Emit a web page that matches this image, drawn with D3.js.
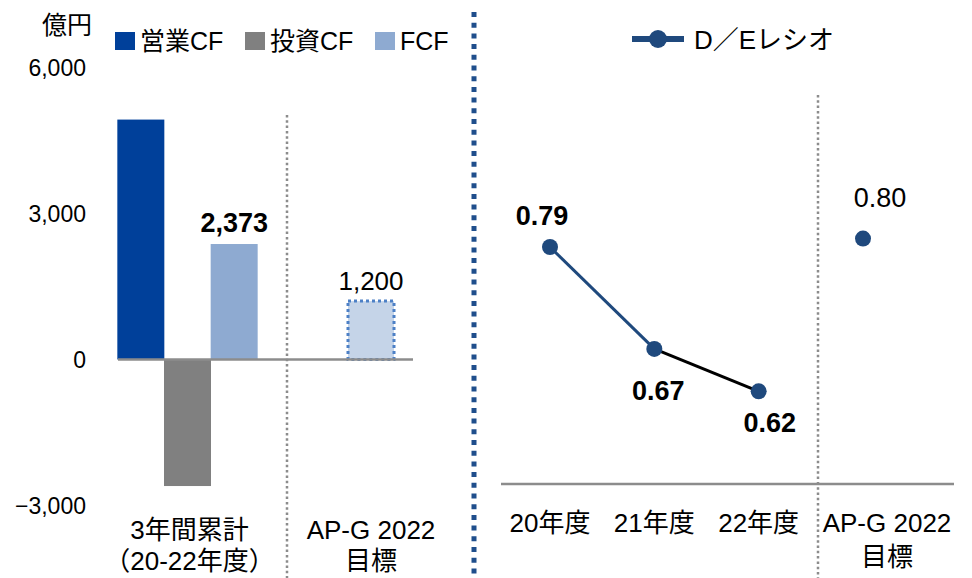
<!DOCTYPE html>
<html>
<head>
<meta charset="utf-8">
<script src="https://cdnjs.cloudflare.com/ajax/libs/d3/7.8.5/d3.min.js"></script>
<style>
  body { margin: 0; background: #fff; }
  text { font-family: "Liberation Sans", Arial, "Noto Sans CJK JP", sans-serif; fill: #000; }
</style>
</head>
<body>
<script>
// data
var cfSeries = ["営業CF", "投資CF", "FCF"];
var cfValues = [4930, -2600, 2373];
var cfColors = ["#00409a", "#808080", "#8eaad1"];
var targetFcf = 1200;
var leftCats = ["3年間累計", "AP-G 2022"];
var leftCatLines = [["3年間累計", "（20-22年度）"], ["AP-G 2022", "目標"]];
var leftTicks = [-3000, 0, 3000, 6000];

var deCats = ["20年度", "21年度", "22年度", "AP-G 2022"];
var deCatLines = [["20年度"], ["21年度"], ["22年度"], ["AP-G 2022", "目標"]];
var deValues = [0.79, 0.67, 0.62];
var deTarget = 0.80;

var width = 972, height = 578;

var svg = d3.select("body")
    .append("svg")
        .attr("width", width)
        .attr("height", height);

// ---------- left: cash flow bars ----------
var y = d3.scaleLinear()
    .domain([-3000, 6000])
    .range([505.5, 67.5]);

var xL = d3.scalePoint()
    .domain(leftCats)
    .range([187.5, 371]);

var xInner = d3.scaleBand()
    .domain(cfSeries)
    .range([-70, 70]);

var barW = 47;

// tick labels
svg.append("g").selectAll("text")
    .data(leftTicks)
    .join("text")
        .attr("x", 86)
        .attr("y", function(d) { return y(d); })
        .attr("dy", "0.38em")
        .attr("text-anchor", "end")
        .attr("font-size", "23px")
        .text(function(d) { return d3.format(",")(d).replace("-", "−"); });

svg.append("text")
    .text("億円")
    .attr("x", 67)
    .attr("y", 34)
    .attr("text-anchor", "middle")
    .attr("font-size", "25px");

// bars
svg.append("g").selectAll("rect")
    .data(cfValues)
    .join("rect")
        .attr("x", function(d, i) { return xL(leftCats[0]) + xInner(cfSeries[i]) + (xInner.bandwidth() - barW) / 2; })
        .attr("y", function(d) { return y(Math.max(0, d)); })
        .attr("width", barW)
        .attr("height", function(d) { return Math.abs(y(d) - y(0)); })
        .attr("fill", function(d, i) { return cfColors[i]; });

// target FCF bar (dotted)
svg.append("rect")
    .attr("x", xL(leftCats[1]) - 23)
    .attr("y", y(targetFcf))
    .attr("width", 46)
    .attr("height", y(0) - y(targetFcf))
    .attr("fill", "#c5d4e8")
    .attr("stroke", "#4d80c6")
    .attr("stroke-width", 3)
    .attr("stroke-dasharray", "3,3");

// zero line
svg.append("line")
    .attr("x1", 118).attr("x2", 413)
    .attr("y1", y(0)).attr("y2", y(0))
    .attr("stroke", "#8c8c8c")
    .attr("stroke-width", 2.5);

// dotted separator
svg.append("line")
    .attr("x1", 287).attr("x2", 287)
    .attr("y1", 115).attr("y2", 578)
    .attr("stroke", "#8c8c8c")
    .attr("stroke-width", 2.5)
    .attr("stroke-dasharray", "2.5,2.8");

// data labels
svg.append("text")
    .text(d3.format(",")(cfValues[2]))
    .attr("x", xL(leftCats[0]) + xInner(cfSeries[2]) + xInner.bandwidth() / 2)
    .attr("y", y(cfValues[2]) - 12)
    .attr("text-anchor", "middle")
    .attr("font-size", "27px")
    .attr("font-weight", "bold");

svg.append("text")
    .text(d3.format(",")(targetFcf))
    .attr("x", xL(leftCats[1]))
    .attr("y", y(targetFcf) - 11)
    .attr("text-anchor", "middle")
    .attr("font-size", "26px");

// category labels
leftCats.forEach(function(c, i) {
    leftCatLines[i].forEach(function(t, j) {
        svg.append("text")
            .text(t)
            .attr("x", xL(c) + (i == 0 ? 2 : 0))
            .attr("y", 539 + j * 31)
            .attr("text-anchor", "middle")
            .attr("font-size", "26px");
    });
});

// legend
cfSeries.forEach(function(s, i) {
    var lx = 115 + i * 130;
    svg.append("rect")
        .attr("x", lx).attr("y", 32)
        .attr("width", 20).attr("height", 18)
        .attr("fill", cfColors[i]);
    svg.append("text")
        .text(s)
        .attr("x", lx + 25)
        .attr("y", 50)
        .attr("font-size", "25px");
});

// big blue divider
svg.append("line")
    .attr("x1", 474).attr("x2", 474)
    .attr("y1", 12).attr("y2", 578)
    .attr("stroke", "#1f4e8c")
    .attr("stroke-width", 5)
    .attr("stroke-dasharray", "5,5.7");

// ---------- right: D/E ratio ----------
var yR = d3.scaleLinear()
    .domain([0.51, 0.85])
    .range([484.7, 196.1]);

var xR = d3.scalePoint()
    .domain(deCats)
    .range([550, 863]);

var deColor = "#1f497d";

// axis line
svg.append("line")
    .attr("x1", 501).attr("x2", 954)
    .attr("y1", 484).attr("y2", 484)
    .attr("stroke", "#8c8c8c")
    .attr("stroke-width", 2.5);

svg.append("line")
    .attr("x1", 818).attr("x2", 818)
    .attr("y1", 95).attr("y2", 578)
    .attr("stroke", "#8c8c8c")
    .attr("stroke-width", 2.5)
    .attr("stroke-dasharray", "2.5,2.8");

// line segments: first blue, second black
var segColors = [deColor, "#000"];
d3.pairs(deValues).forEach(function(p, i) {
    svg.append("line")
        .attr("x1", xR(deCats[i])).attr("y1", yR(p[0]))
        .attr("x2", xR(deCats[i + 1])).attr("y2", yR(p[1]))
        .attr("stroke", segColors[i])
        .attr("stroke-width", 3);
});

var allDe = deValues.concat([deTarget]);
svg.append("g").selectAll("circle")
    .data(allDe)
    .join("circle")
        .attr("cx", function(d, i) { return xR(deCats[i]); })
        .attr("cy", function(d) { return yR(d); })
        .attr("r", 8)
        .attr("fill", deColor);

// label offsets [dx, dy]
var deLabelPos = [[-8, -22], [4, 51], [11, 41], [17, -32]];
svg.append("g").selectAll("text")
    .data(allDe)
    .join("text")
        .attr("x", function(d, i) { return xR(deCats[i]) + deLabelPos[i][0]; })
        .attr("y", function(d, i) { return yR(d) + deLabelPos[i][1]; })
        .attr("text-anchor", "middle")
        .attr("font-size", "27px")
        .attr("font-weight", function(d, i) { return i < 3 ? "bold" : "normal"; })
        .text(function(d) { return d3.format(".2f")(d); });

deCats.forEach(function(c, i) {
    deCatLines[i].forEach(function(t, j) {
        svg.append("text")
            .text(t)
            .attr("x", xR(c) + (i == 3 ? 24 : 0))
            .attr("y", 532 + j * 34)
            .attr("text-anchor", "middle")
            .attr("font-size", "26px");
    });
});

// legend
svg.append("line")
    .attr("x1", 632).attr("x2", 684)
    .attr("y1", 39).attr("y2", 39)
    .attr("stroke", deColor)
    .attr("stroke-width", 6);
svg.append("circle")
    .attr("cx", 658).attr("cy", 39)
    .attr("r", 9)
    .attr("fill", deColor);
svg.append("text")
    .text("D／Eレシオ")
    .attr("x", 694)
    .attr("y", 49)
    .attr("font-size", "26px");
</script>
</body>
</html>
